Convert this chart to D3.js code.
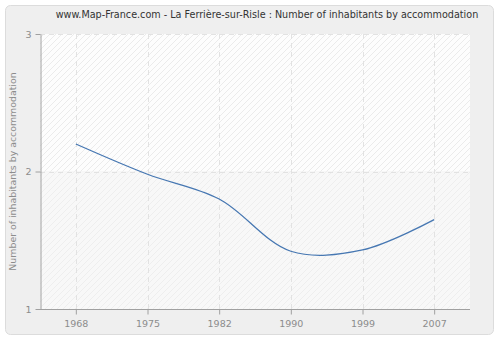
<!DOCTYPE html>
<html>
<head>
<meta charset="utf-8">
<script src="https://cdn.jsdelivr.net/npm/d3@7"></script>
<style>
  html, body { margin: 0; padding: 0; background: #fff; }
  svg { display: block; }
</style>
</head>
<body>
<svg id="chart" width="500" height="340"></svg>
<script>
// Census years and average number of inhabitants per dwelling
const years = ["1968", "1975", "1982", "1990", "1999", "2007"];
const inhabitants = [2.2, 1.98, 1.8, 1.42, 1.43, 1.65];
const yTicks = [1, 2, 3];
const titleText = "www.Map-France.com - La Ferrière-sur-Risle : Number of inhabitants by accommodation";
const yAxisTitle = "Number of inhabitants by accommodation";

const svg = d3.select("#chart");
const font = "'DejaVu Sans', Verdana, sans-serif";
const condensed = "'DejaVu Sans Condensed', 'DejaVu Sans', sans-serif";

const plot = { left: 40, right: 470, top: 34, bottom: 309 };

// Outer panel
svg.append("rect")
  .attr("x", 5.5).attr("y", 5.5)
  .attr("width", 488).attr("height", 329)
  .attr("rx", 5).attr("ry", 5)
  .attr("fill", "#efefef")
  .attr("stroke", "#dcdcdc");

// Hatched plot background
const defs = svg.append("defs");
function hatch(id, bg, line) {
  const p = defs.append("pattern")
    .attr("id", id)
    .attr("patternUnits", "userSpaceOnUse")
    .attr("width", 6).attr("height", 6);
  p.append("rect").attr("width", 6).attr("height", 6).attr("fill", bg);
  p.append("path")
    .attr("d", "M-1,1 L1,-1 M0,6 L6,0 M5,7 L7,5")
    .attr("stroke", line).attr("stroke-width", 1);
}
hatch("hatchTop", "#fdfdfd", "#ebebeb");
hatch("hatchBottom", "#f8f8f8", "#eeeeee");

const x = d3.scalePoint()
  .domain(years)
  .range([plot.left, plot.right])
  .padding(0.5);

const y = d3.scaleLinear()
  .domain([1, 3])
  .range([plot.bottom, plot.top]);

svg.append("rect")
  .attr("x", plot.left).attr("y", plot.top)
  .attr("width", plot.right - plot.left)
  .attr("height", y(2) - plot.top)
  .attr("fill", "url(#hatchTop)");
svg.append("rect")
  .attr("x", plot.left).attr("y", y(2))
  .attr("width", plot.right - plot.left)
  .attr("height", plot.bottom - y(2))
  .attr("fill", "url(#hatchBottom)");

// Dashed grid
const grid = svg.append("g")
  .attr("stroke", "#e2e2e2")
  .attr("stroke-dasharray", "5,4")
  .attr("fill", "none");
grid.selectAll("line.v")
  .data(years)
  .join("line")
  .attr("x1", d => Math.round(x(d)) + 0.5)
  .attr("x2", d => Math.round(x(d)) + 0.5)
  .attr("y1", plot.top)
  .attr("y2", plot.bottom);
grid.selectAll("line.h")
  .data(yTicks.filter(t => t > 1))
  .join("line")
  .attr("x1", plot.left)
  .attr("x2", plot.right)
  .attr("y1", d => Math.round(y(d)) + 0.5)
  .attr("y2", d => Math.round(y(d)) + 0.5);

// Axes
const xAxis = d3.axisBottom(x).tickSize(5).tickSizeOuter(0).tickPadding(6);
const yAxis = d3.axisLeft(y).tickValues(yTicks).tickSize(5).tickSizeOuter(0).tickPadding(4)
  .tickFormat(d3.format("d"));

const gx = svg.append("g")
  .attr("transform", `translate(0,${plot.bottom + 0.5})`)
  .call(xAxis);
const gy = svg.append("g")
  .attr("transform", `translate(${plot.left + 0.5},0)`)
  .call(yAxis);

[gx, gy].forEach(g => {
  g.select(".domain").attr("stroke", "#a0a0a0");
  g.selectAll(".tick line").attr("stroke", "#a0a0a0");
  g.selectAll(".tick text")
    .attr("fill", "#8c8c8c")
    .attr("font-family", font)
    .attr("font-size", 9.5);
});
gx.select(".domain").attr("d", `M${plot.left},0H${plot.right}`);

// Data line
const line = d3.line()
  .x((d, i) => x(years[i]))
  .y(d => y(d))
  .curve(d3.curveCatmullRom);

svg.append("path")
  .datum(inhabitants)
  .attr("d", line)
  .attr("fill", "none")
  .attr("stroke", "#4677b2")
  .attr("stroke-width", 1.3);

// Titles
svg.append("text")
  .attr("x", 267).attr("y", 18)
  .attr("text-anchor", "middle")
  .attr("font-family", condensed)
  .attr("font-size", 10.7)
  .attr("fill", "#333")
  .text(titleText);

svg.append("text")
  .attr("transform", `translate(16,${(plot.top + plot.bottom) / 2}) rotate(-90)`)
  .attr("text-anchor", "middle")
  .attr("font-family", font)
  .attr("font-size", 9.4)
  .attr("fill", "#8c8c8c")
  .text(yAxisTitle);
</script>
</body>
</html>
